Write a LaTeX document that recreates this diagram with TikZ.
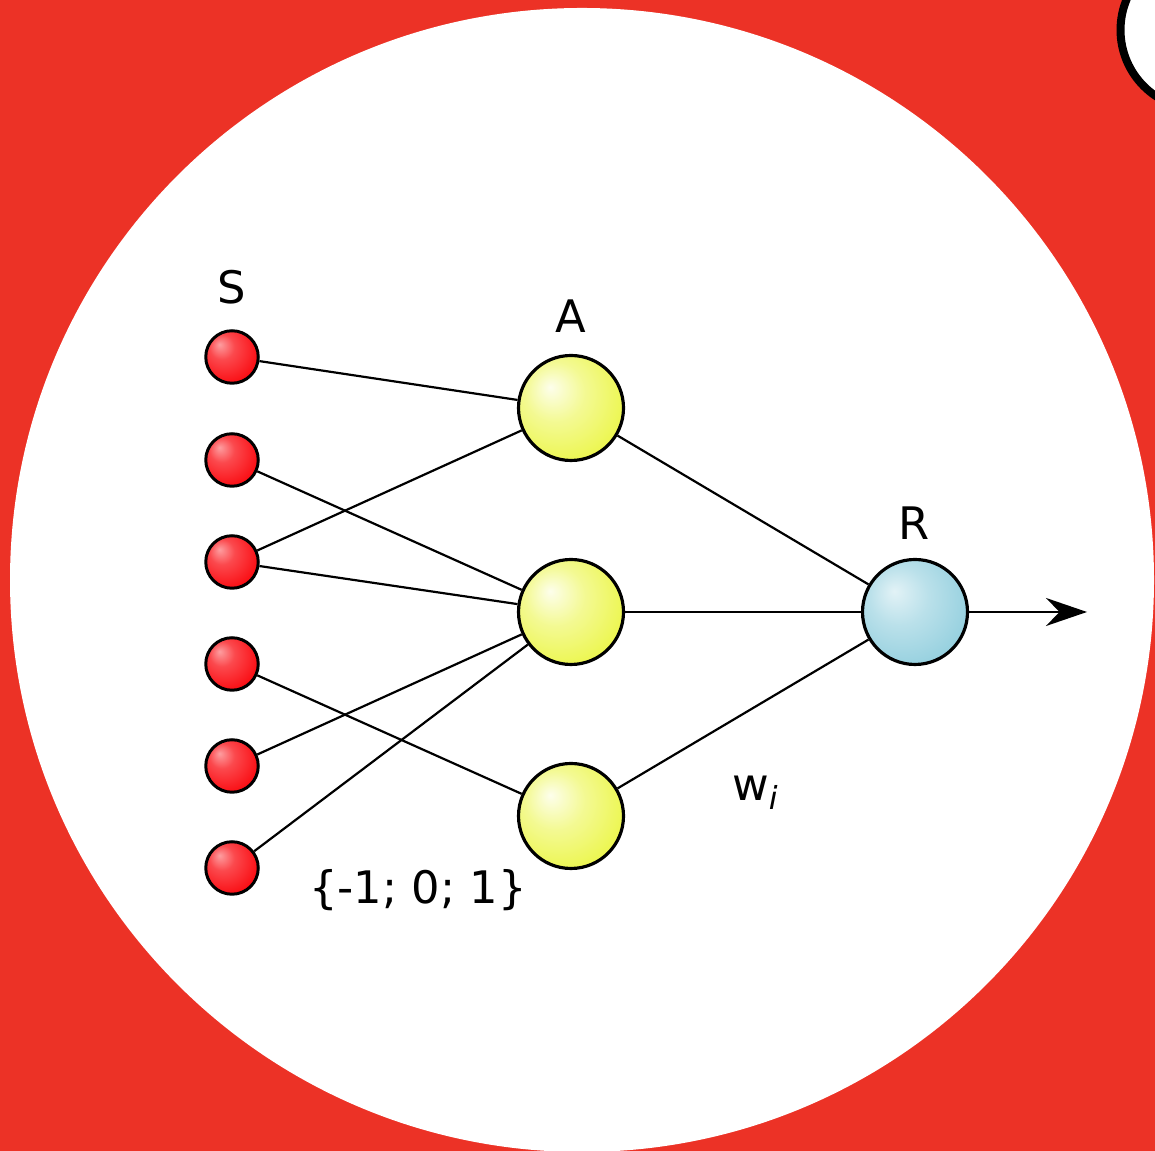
\documentclass[tikz,border=0pt]{standalone}
\usepackage{fontspec}
\setmainfont{DejaVu Sans}
\usepackage{tikz}
\usetikzlibrary{arrows.meta}

\definecolor{bgred}{RGB}{236,50,38}
\definecolor{sred}{RGB}{250,12,18}
\definecolor{ayellow}{RGB}{234,245,60}
\definecolor{rblue}{RGB}{140,204,220}

% ball shadings, light spot up left
\pgfdeclareradialshading{redball}{\pgfpoint{-12bp}{12bp}}{color(0bp)=(sred!40!white); color(12bp)=(sred!75!white); color(32bp)=(sred); color(60bp)=(sred!85!black)}
\pgfdeclareradialshading{yellowball}{\pgfpoint{-10bp}{10bp}}{color(0bp)=(ayellow!10!white); color(14bp)=(ayellow!55!white); color(36bp)=(ayellow); color(60bp)=(ayellow!92!black)}
\pgfdeclareradialshading{blueball}{\pgfpoint{-10bp}{10bp}}{color(0bp)=(rblue!25!white); color(14bp)=(rblue!60!white); color(36bp)=(rblue); color(60bp)=(rblue!90!black)}

\begin{document}
\begin{tikzpicture}[scale=2,
    sball/.style={circle, draw, line width=1.7pt, minimum size=1.05cm, inner sep=0pt, shading=redball},
    aball/.style={circle, draw, line width=1.8pt, minimum size=2.1cm, inner sep=0pt, shading=yellowball},
    rball/.style={circle, draw, line width=1.8pt, minimum size=2.1cm, inner sep=0pt, shading=blueball},
    edge/.style={line width=1.25pt},
    lbl/.style={font=\fontsize{25.5}{30}\selectfont}]
    \useasboundingbox (0,0) rectangle (11.55,11.51);
    \clip (0,0) rectangle (11.55,11.51);

    % Background
    \fill[bgred] (0,0) rectangle (11.55,11.51);
    \fill[white] (5.82,5.71) circle (5.72);
    \draw[fill=white, line width=0.16cm] (12.00,11.21) circle (0.795);

    % S layer
    \node[sball] (s1) at (2.32, 7.94) {};
    \node[sball] (s2) at (2.32, 6.91) {};
    \node[sball] (s3) at (2.32, 5.89) {};
    \node[sball] (s4) at (2.32, 4.87) {};
    \node[sball] (s5) at (2.32, 3.85) {};
    \node[sball] (s6) at (2.32, 2.83) {};

    % A layer
    \node[aball] (a1) at (5.71, 7.43) {};
    \node[aball] (a2) at (5.71, 5.39) {};
    \node[aball] (a3) at (5.71, 3.35) {};

    % R layer
    \node[rball] (r) at (9.15, 5.39) {};
    \coordinate (out) at (10.87, 5.39);

    % Labels
    \node[lbl] (slbl) at (2.32, 8.64) {S};
    \node[lbl] (albl) at (5.71, 8.35) {A};
    \node[lbl] (rlbl) at (9.14, 6.28) {R};
    \node[lbl] (wlbl) at (7.55, 3.58) {w\raisebox{-0.35ex}{\fontsize{18}{21}\selectfont\itshape i}};
    \node[lbl] (vlbl) at (4.18, 2.61) {\{-1; 0; 1\}};

    % Edges S to A
    \draw[edge] (s1) -- (a1);
    \draw[edge] (s2) -- (a2);
    \draw[edge] (s3) -- (a1);
    \draw[edge] (s3) -- (a2);
    \draw[edge] (s4) -- (a3);
    \draw[edge] (s5) -- (a2);
    \draw[edge] (s6) -- (a2);

    % Edges A to R
    \draw[edge] (a1) -- (r);
    \draw[edge] (a2) -- (r);
    \draw[edge] (a3) -- (r);

    % Output
    \draw[edge, -{Stealth[length=0.82cm, width=0.56cm, inset=0.27cm]}] (r) -- (out);
\end{tikzpicture}
\end{document}
